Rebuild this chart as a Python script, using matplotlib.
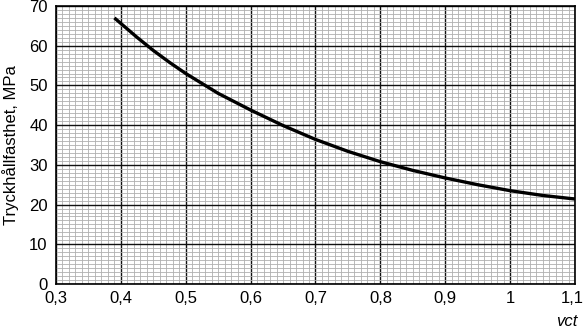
import matplotlib.pyplot as plt
import matplotlib.transforms as mtransforms
from matplotlib.ticker import MultipleLocator, FixedLocator

plt.rcParams['font.family'] = ['Liberation Sans', 'DejaVu Sans']

# curve
vct = [0.39, 0.40, 0.425, 0.45, 0.475, 0.50, 0.55, 0.60, 0.65, 0.70, 0.75, 0.80,
       0.85, 0.90, 0.95, 1.00, 1.05, 1.10]
strength = [67.0, 65.6, 62.1, 58.8, 55.8, 53.0, 48.0, 43.8, 39.9, 36.4, 33.4, 30.8,
            28.6, 26.7, 25.0, 23.5, 22.3, 21.4]

x_ticks = [0.3, 0.4, 0.5, 0.6, 0.7, 0.8, 0.9, 1.0, 1.1]
x_labels = ['0,3', '0,4', '0,5', '0,6', '0,7', '0,8', '0,9', '1', '1,1']
y_ticks = [0, 10, 20, 30, 40, 50, 60, 70]

fig = plt.figure(figsize=(5.84, 3.33), dpi=100)
ax = fig.add_axes([56/584, 1 - 284/333, (575-56)/584, (284-6)/333])

ax.plot(vct, strength, color='black', linewidth=2.4,
        solid_capstyle='butt', solid_joinstyle='round')

ax.set_xlim(0.3, 1.1)
ax.set_ylim(0, 70)
ax.xaxis.set_major_locator(FixedLocator(x_ticks))
ax.set_xticklabels(x_labels)
ax.yaxis.set_major_locator(FixedLocator(y_ticks))
ax.xaxis.set_minor_locator(MultipleLocator(0.01))
ax.yaxis.set_minor_locator(MultipleLocator(1))

ax.grid(which='minor', color='#b0b0b0', linewidth=0.6)
ax.grid(which='major', color='#111111', linewidth=1.0)
ax.set_axisbelow(True)

ax.tick_params(axis='both', which='both', length=0, labelsize=12)
ax.tick_params(axis='x', pad=5)
ax.tick_params(axis='y', pad=6)
for s in ax.spines.values():
    s.set_color('black')
    s.set_linewidth(1.2)

# last x label sits at the figure edge, nudge it inside
last = ax.get_xticklabels()[-1]
last.set_transform(last.get_transform() +
                   mtransforms.ScaledTranslation(-3/100, 0, fig.dpi_scale_trans))

ax.set_ylabel('Tryckhållfasthet, MPa', fontsize=12, labelpad=7)
fig.text(577/584, 1 - 321/333, 'vct', fontsize=12, style='italic',
         ha='right', va='center')

fig.savefig('out.png', dpi=100)
